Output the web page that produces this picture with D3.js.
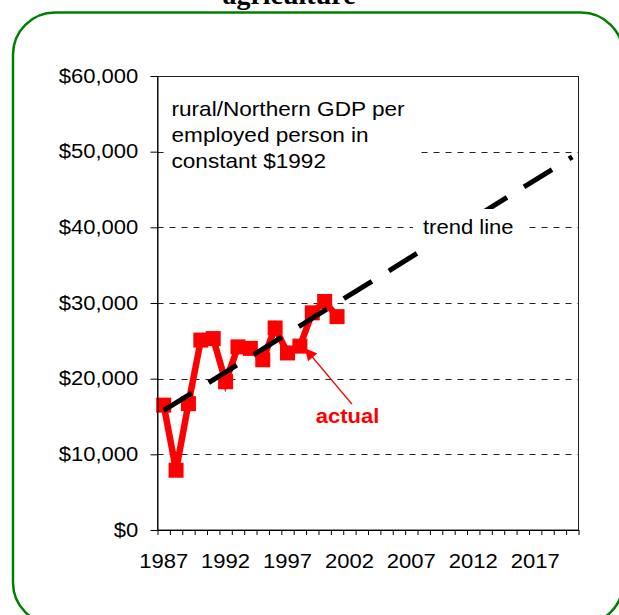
<!DOCTYPE html>
<html><head><meta charset="utf-8">
<script src="https://cdn.jsdelivr.net/npm/d3@7"></script>
<style>html,body{margin:0;padding:0;background:#fff;} svg{display:block}</style>
</head><body>
<svg id="c" width="619" height="615"></svg>
<script>
const categories = [1987,1988,1989,1990,1991,1992,1993,1994,1995,1996,1997,1998,1999,2000,2001,2002,2003,2004,2005,2006,2007,2008,2009,2010,2011,2012,2013,2014,2015,2016,2017,2018,2019,2020];
const actualYears  = [1987,1988,1989,1990,1991,1992,1993,1994,1995,1996,1997,1998,1999,2000,2001];
const actualValues = [16500,7900,16700,25100,25300,19600,24200,24000,22500,26700,23400,24300,28700,30200,28200];
const trendYears  = [1987, 2020];
const trendValues = [15800, 49300];
const yTickValues = [0,10000,20000,30000,40000,50000,60000];
const xLabelYears = [1987,1992,1997,2002,2007,2012,2017];
const noteLines = ["rural/Northern GDP per","employed person in","constant $1992"];
const trendLabel = "trend line";
const actualLabel = "actual";
const titleText = "agriculture";

const L=157.5, R=578.5, T=76, B=530;
const SX=1.13;
const FONT="'Liberation Sans', Arial, Helvetica, sans-serif";
const svg=d3.select("#c");

// green rounded frame (right and bottom edges run past the picture)
svg.append("rect").attr("x",13).attr("y",12.5).attr("width",610).attr("height",612).attr("rx",42)
  .attr("fill","none").attr("stroke","#008000").attr("stroke-width",2.5);

// cut-off title
svg.append("text").attr("x",289).attr("y",4).attr("text-anchor","middle")
  .attr("font-family","'Liberation Serif','Times New Roman',serif").attr("font-weight","bold")
  .attr("font-size",28).text(titleText);

const x = d3.scaleBand().domain(categories).range([L,R]).padding(0);
const cx = d => x(d)+x.bandwidth()/2;
const xEdge = d3.scaleLinear().domain([0,categories.length]).range([L,R]);
const y = d3.scaleLinear().domain([0,60000]).range([B,T]);

// gridlines
svg.append("g").selectAll("line").data(yTickValues.filter(v=>v>0)).join("line")
  .attr("x1",L).attr("x2",R).attr("y1",d=>Math.round(y(d))+0.5).attr("y2",d=>Math.round(y(d))+0.5)
  .attr("stroke","#222").attr("stroke-width",1).attr("stroke-dasharray","6,6");

// plot border
svg.append("rect").attr("x",L).attr("y",T+0.5).attr("width",R-L).attr("height",B-T-0.5)
  .attr("fill","none").attr("stroke","#222").attr("stroke-width",1);

// actual series
const actual = actualYears.map((yr,i)=>({yr, v:actualValues[i]}));
svg.append("path").datum(actual)
  .attr("d", d3.line().x(d=>cx(d.yr)).y(d=>y(d.v)))
  .attr("fill","none").attr("stroke","#ff0000").attr("stroke-width",6.5).attr("stroke-linejoin","miter");
svg.append("g").selectAll("rect").data(actual).join("rect")
  .attr("x",d=>cx(d.yr)-7.5).attr("y",d=>y(d.v)-7.5).attr("width",15).attr("height",15).attr("fill","#ff0000");

// trend line
const trend = trendYears.map((yr,i)=>({yr, v:trendValues[i]}));
svg.append("path").datum(trend)
  .attr("d", d3.line().x(d=>cx(d.yr)).y(d=>y(d.v)))
  .attr("fill","none").attr("stroke","#000").attr("stroke-width",5).attr("stroke-dasharray","33,20");

// axes
const yAxis = svg.append("g").attr("transform",`translate(${L},0)`)
  .call(d3.axisLeft(y).tickValues(yTickValues).tickSize(7).tickSizeOuter(0).tickPadding(10)
        .tickFormat(d=>"$"+d3.format(",")(d)));
yAxis.selectAll("text").attr("font-size",19.5).attr("font-family",FONT).attr("fill","#000").attr("transform",`scale(${SX},1)`);
yAxis.selectAll("line,path").attr("stroke","#000");

const xTicks = svg.append("g").attr("transform",`translate(0,${B})`)
  .call(d3.axisBottom(xEdge).tickValues(d3.range(0,categories.length+1)).tickSize(5).tickSizeOuter(0).tickFormat(""));
xTicks.selectAll("line,path").attr("stroke","#000");

const xLabels = svg.append("g").attr("transform",`translate(0,${B})`)
  .call(d3.axisBottom(x).tickValues(xLabelYears).tickSize(0).tickPadding(24));
xLabels.select(".domain").remove();
xLabels.selectAll("text").attr("font-size",19.5).attr("font-family",FONT).attr("fill","#000").attr("transform",`scale(${SX},1)`);

// note box
svg.append("rect").attr("x",165).attr("y",90).attr("width",253).attr("height",86).attr("fill","#fff");
const note = svg.append("text").attr("font-family",FONT).attr("font-size",20).attr("fill","#000")
  .attr("transform",`translate(171.5,116) scale(${SX},1)`);
note.selectAll("tspan").data(noteLines).join("tspan").attr("x",0).attr("y",(d,i)=>i*26).text(d=>d);

// trend label box
svg.append("rect").attr("x",413).attr("y",209).attr("width",114).attr("height",37).attr("fill","#fff");
svg.append("text").attr("font-family",FONT).attr("font-size",19.5).attr("fill","#000")
  .attr("transform",`translate(423,233.5) scale(${SX},1)`).text(trendLabel);

// actual label
svg.append("text").attr("font-family",FONT).attr("font-size",19.5).attr("font-weight","bold").attr("fill","#ff0000")
  .attr("text-anchor","middle").attr("transform",`translate(347.5,423) scale(${SX},1)`).text(actualLabel);

// arrow
svg.append("defs").append("marker").attr("id","ah").attr("viewBox","0 0 10 10").attr("refX",10).attr("refY",5)
  .attr("markerWidth",13).attr("markerHeight",12).attr("markerUnits","userSpaceOnUse").attr("orient","auto")
  .append("path").attr("d","M0,0 L10,5 L0,10 Z").attr("fill","#ff0000");
const tipX = cx(1998)+5, tipY = y(actualValues[actualYears.indexOf(1998)])+2;
svg.append("line").attr("x1",tipX+47).attr("y1",tipY+56).attr("x2",tipX).attr("y2",tipY)
  .attr("stroke","#ff0000").attr("stroke-width",1.5).attr("marker-end","url(#ah)");
</script>
</body></html>
